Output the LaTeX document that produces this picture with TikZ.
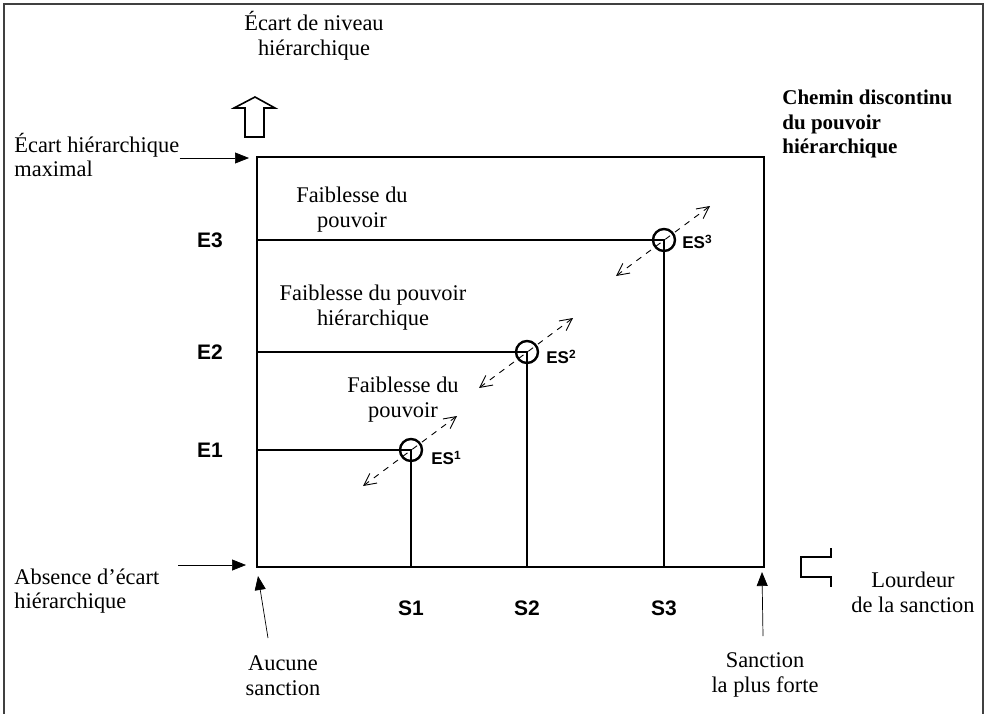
\documentclass[tikz,border=0pt]{standalone}
\usepackage{fontspec}
\setmainfont{Liberation Serif}
\setsansfont{Liberation Sans}
\usetikzlibrary{arrows.meta,calc}

\begin{document}
\begin{tikzpicture}[x=0.5pt,y=-0.5pt,
  font=\fontsize{11.2}{12.4}\selectfont,
  txt/.style={align=center, inner sep=0pt},
  lbl/.style={font=\fontsize{10.5}{12}\selectfont\sffamily\bfseries, inner sep=0pt},
  eslbl/.style={font=\fontsize{8.5}{10}\selectfont\sffamily\bfseries, inner sep=0pt},
  pointer/.style={-{Triangle[length=7pt,width=5.5pt]}, line width=0.35pt},
  swing/.style={{Straight Barb[length=6pt,width=6pt]}-{Straight Barb[length=6pt,width=6pt]},
    dashed, line width=0.45pt}
  ]
 \useasboundingbox (0,0) rectangle (986,713);
 % outer frame, open at the bottom
 \draw[line width=1.4pt, black!75] (4,730) -- (4,4) -- (983,4) -- (983,730);

 % main box
 \coordinate (o) at (257,567);
 \coordinate (tl) at (257,157);
 \coordinate (br) at (764,567);
 \draw[line width=1pt] (tl) rectangle (br);

 % levels E / S / ES
 \foreach \n/\x/\y/\dx/\dy in {1/411/450/20/8, 2/527/352/19/5, 3/664/240/18/2}
 {
   \coordinate (e\n) at (257,\y);
   \coordinate (s\n) at (\x,567);
   \node[draw, circle, line width=1.2pt, minimum size=11pt, inner sep=0pt] (es\n) at (\x,\y) {};
   \draw[line width=0.8pt] (e\n) -- (es\n.center) -- (s\n);
   \coordinate (lo\n) at ($(es\n)+(-48,36)$);
   \coordinate (up\n) at ($(es\n)+(46,-34)$);
   \draw[swing] (lo\n) -- (up\n);
   \node[lbl] (le\n) at (210,\y) {E\n};
   \node[lbl] (ls\n) at (\x,608) {S\n};
   \node[eslbl, anchor=west] (les\n) at ($(es\n)+(\dx,\dy)$) {ES\textsuperscript{\n}};
 }

 % weakness labels
 \node[txt] (f3) at (352,210) {Faiblesse du\\pouvoir};
 \node[txt] (f2) at (373,308) {Faiblesse du pouvoir\\hiérarchique};
 \node[txt] (f1) at (403,400) {Faiblesse du\\pouvoir};

 % axis titles
 \node[txt] (yaxis) at (314,36) {Écart de niveau\\hiérarchique};
 \draw[line width=0.8pt] (245,137) -- (245,108) -- (234,108) -- (255,97)
   -- (275,108) -- (264,108) -- (264,137) -- cycle;
 \node[txt] (xaxis) at (913,592) {Lourdeur\\de la sanction};
 \draw[line width=0.8pt] (831,548) -- (831,557) -- (801,557) -- (801,577)
   -- (831,577) -- (831,587);
 \node[txt, align=left, anchor=west, font=\fontsize{10.5}{12.4}\selectfont\bfseries]
   (title) at (782,124) {Chemin discontinu\\du pouvoir\\hiérarchique};

 % pointers to the box corners
 \node[txt, align=left, anchor=west] (maxi) at (14,155) {Écart hiérarchique\\maximal};
 \coordinate (maxiTip) at (249,158);
 \draw[pointer] (maxi.east |- maxiTip) -- (maxiTip);

 \node[txt, align=left, anchor=west] (absn) at (14,591) {Absence d’écart\\hiérarchique};
 \coordinate (absnTip) at (246,565);
 \coordinate (absnFoot) at (178,565);
 \draw[pointer] (absnFoot) -- (absnTip);

 \node[txt] (aucune) at (283,676) {Aucune\\sanction};
 \coordinate (aucTip) at (258,576);
 \coordinate (aucFoot) at (268,638);
 \draw[pointer] (aucFoot) -- (aucTip);

 \node[txt] (forte) at (765,675) {Sanction\\la plus forte};
 \coordinate (forTip) at (762,572);
 \coordinate (forFoot) at (763,636);
 \draw[pointer] (forFoot) -- (forTip);
\end{tikzpicture}
\end{document}
